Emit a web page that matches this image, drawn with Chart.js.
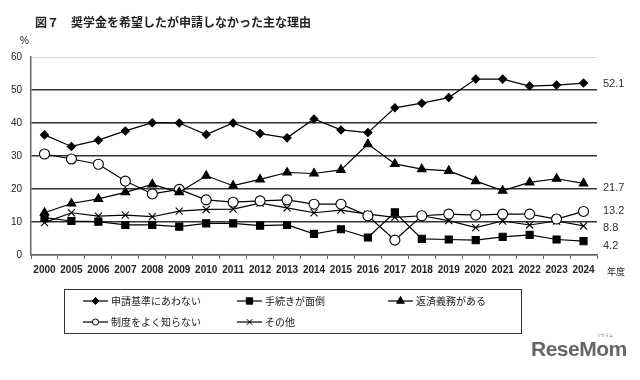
<!DOCTYPE html>
<html><head><meta charset="utf-8">
<script src="https://cdn.jsdelivr.net/npm/chart.js@4/dist/chart.umd.min.js"></script>
<style>
html,body{margin:0;padding:0;background:#fff;}
#wrap{position:relative;width:640px;height:380px;overflow:hidden;font-family:"Noto Sans CJK JP",sans-serif;background:#fff;}
canvas{position:absolute;left:0;top:0;}
.t{position:absolute;white-space:nowrap;color:#222;}
</style></head><body>
<div id="wrap">
<canvas id="c" width="640" height="380"></canvas>
<div class="t" style="left:35px;top:14px;font-size:12px;font-weight:bold;line-height:16px;">図７　奨学金を希望したが申請しなかった主な理由</div>
<div class="t" style="left:20px;top:35px;font:10px 'Liberation Sans',Arial,sans-serif;">%</div>
<div class="t" style="left:607px;top:266px;font-size:9px;line-height:12px;">年度</div>
<div class="t" style="left:597px;top:333px;font-size:4px;line-height:5px;color:#777;">リセマム</div>
<div class="t" style="left:531px;top:337px;font:bold 21px 'Liberation Sans',Arial,sans-serif;color:#666;letter-spacing:-0.5px;">ReseMom</div>
</div>
<script>
const years = ['2000','2005','2006','2007','2008','2009','2010','2011','2012','2013','2014','2015','2016','2017','2018','2019','2020','2021','2022','2023','2024'];
const seriesNames = ['申請基準にあわない','手続きが面倒','返済義務がある','制度をよく知らない','その他'];
const notEligible = [36.4,32.9,34.8,37.6,40.1,40.0,36.5,40.0,36.8,35.5,41.2,37.9,37.1,44.6,46.0,47.7,53.3,53.3,51.2,51.5,52.1];
const troublesome = [11.3,10.3,10.1,9.1,9.1,8.6,9.6,9.6,8.9,9.1,6.4,7.8,5.3,12.9,4.9,4.7,4.5,5.5,6.1,4.7,4.2];
const repayment = [12.8,15.6,17.0,19.0,21.4,19.0,24.0,21.0,22.9,25.0,24.7,25.8,33.6,27.6,26.0,25.5,22.4,19.5,22.0,23.1,21.7];
const unknownSystem = [30.6,29.1,27.5,22.4,18.5,19.9,16.7,16.0,16.4,16.7,15.4,15.4,11.9,4.5,11.9,12.4,12.1,12.4,12.4,10.9,13.2];
const others = [9.8,12.8,11.8,12.1,11.6,13.3,13.8,13.9,15.7,14.3,12.8,13.6,12.4,11.4,11.9,10.4,8.3,10.3,9.1,10.3,8.8];
const endLabels = ['52.1','4.2','21.7','13.2','8.8'];
const yTicks = [0,10,20,30,40,50,60];

const styles = [
  {pointStyle:'rectRot', r:4, lr:3.5, fill:'#000'},
  {pointStyle:'rect', r:5, lr:4.5, fill:'#000'},
  {pointStyle:'triangle', r:5, lr:4.5, fill:'#000'},
  {pointStyle:'circle', r:5, lr:3, fill:'#fff'},
  {pointStyle:'crossRot', r:5, lr:4, fill:'#000'}
];
const labelNudge = [1, 5, 5, 0, 2];
const allData = [notEligible, troublesome, repayment, unknownSystem, others];

const datasets = allData.map((d,i)=>({
  label: seriesNames[i],
  data: d,
  borderColor:'#000',
  borderWidth:1.2,
  pointStyle: styles[i].pointStyle,
  pointRadius: styles[i].r,
  pointBackgroundColor: styles[i].fill,
  pointBorderColor:'#000',
  pointBorderWidth:1.1,
  tension:0,
  fill:false
}));

const extras = {
  id:'extras',
  afterDatasetsDraw(chart){
    const ctx = chart.ctx;
    const ys = chart.scales.y;
    // end labels
    ctx.save();
    ctx.fillStyle = '#333';
    ctx.font = "11px 'Liberation Sans', Arial, sans-serif";
    ctx.textBaseline = 'middle';
    ctx.textAlign = 'left';
    allData.forEach((d,i)=>{
      const y = ys.getPixelForValue(d[d.length-1]) + labelNudge[i];
      ctx.fillText(endLabels[i], 603, y);
    });
    ctx.restore();
    // legend
    ctx.save();
    ctx.strokeStyle = '#333';
    ctx.lineWidth = 1;
    ctx.strokeRect(64.5, 289.5, 457, 44);
    const pos = [[83,301],[237,301],[388,301],[83,322],[237,322]];
    seriesNames.forEach((name,i)=>{
      const [x,y] = pos[i];
      ctx.strokeStyle = '#000';
      ctx.lineWidth = 1.2;
      ctx.beginPath(); ctx.moveTo(x,y); ctx.lineTo(x+25,y); ctx.stroke();
      ctx.fillStyle = styles[i].fill;
      ctx.strokeStyle = '#000';
      ctx.lineWidth = 1;
      Chart.helpers.drawPoint(ctx, {pointStyle:styles[i].pointStyle, radius:styles[i].lr, rotation:0, borderWidth:1}, x+12.5, y);
      ctx.fillStyle = '#222';
      ctx.font = "10px 'Noto Sans CJK JP', sans-serif";
      ctx.textBaseline = 'middle';
      ctx.textAlign = 'left';
      ctx.fillText(name, x+28, y);
    });
    ctx.restore();
  }
};

new Chart(document.getElementById('c'), {
  type:'line',
  data:{labels:years, datasets},
  options:{
    responsive:false,
    devicePixelRatio:1,
    animation:false,
    layout:{padding:{top:57,right:43,bottom:0,left:0}},
    plugins:{legend:{display:false}, title:{display:false}, tooltip:{enabled:false}},
    scales:{
      x:{
        offset:true,
        grid:{display:true, drawOnChartArea:false, drawTicks:true, tickLength:4, offset:true, color:'#666', lineWidth:1},
        border:{color:'#666', width:1.5},
        ticks:{font:{family:"'Liberation Sans', Arial, sans-serif", size:10, weight:'bold'}, color:'#222', padding:5, maxRotation:0, autoSkip:false},
        afterFit(s){ s.height = 125; }
      },
      y:{
        min:0, max:60,
        afterBuildTicks(s){ s.ticks = yTicks.map(v=>({value:v})); },
        ticks:{font:{family:"'Liberation Sans', Arial, sans-serif", size:10}, color:'#222', padding:9},
        grid:{drawTicks:false,
          color:(c)=> c.tick && c.tick.value===60 ? '#d4d4d4' : (c.tick && c.tick.value===0 ? '#666' : '#333'),
          lineWidth:(c)=> c.tick && c.tick.value===60 ? 1 : 1.4},
        border:{color:'#666', width:1.5},
        afterFit(s){ s.width = 31; }
      }
    }
  },
  plugins:[extras]
});
</script>
</body></html>
